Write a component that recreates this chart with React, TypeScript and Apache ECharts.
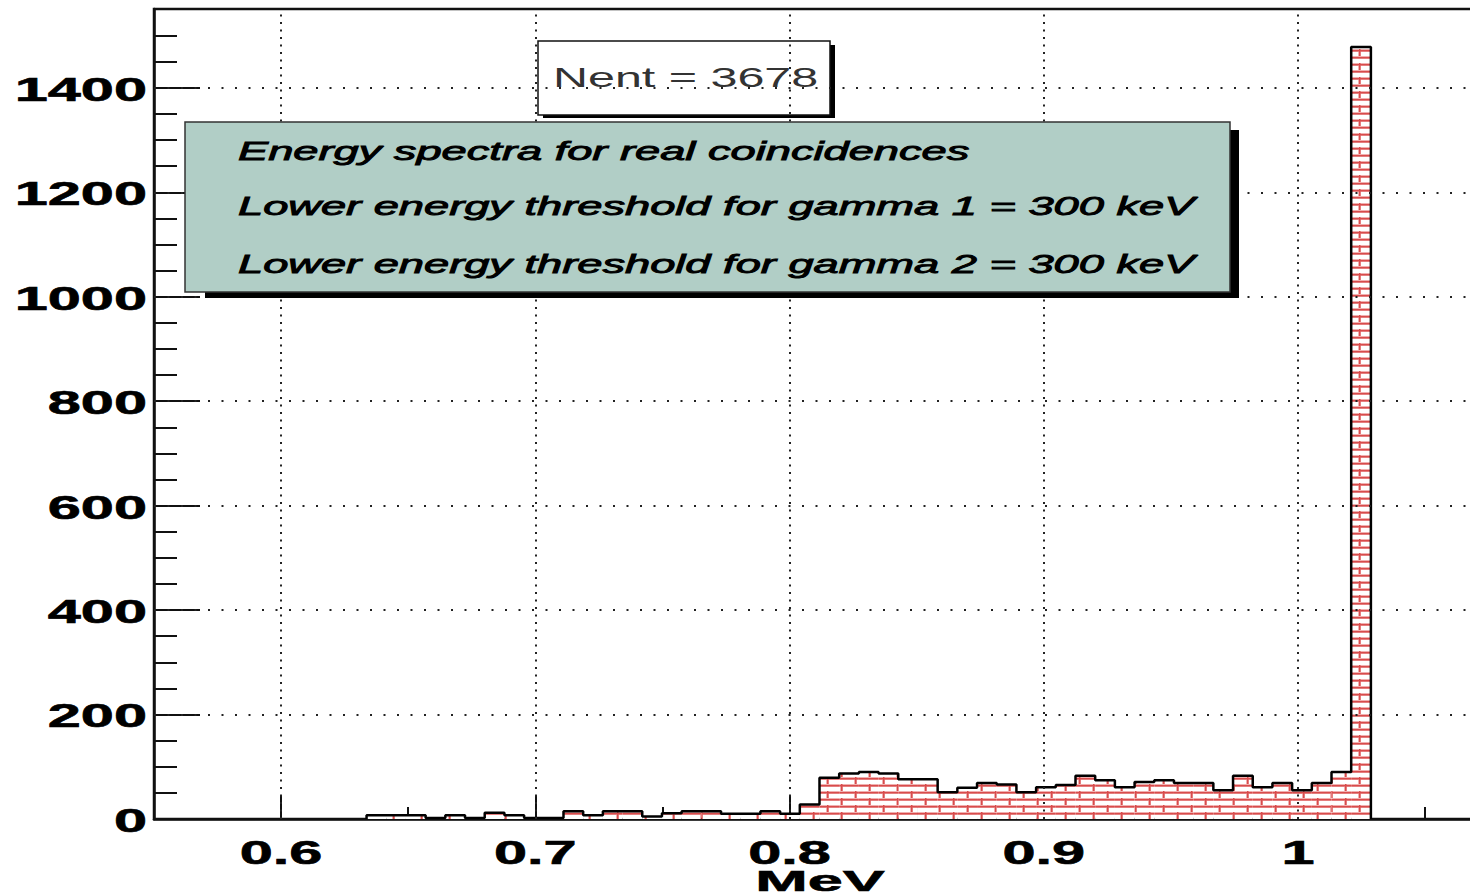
import React, { useEffect, useRef } from 'react';
import * as echarts from 'echarts';

// ---- data ----
const X_MIN = 0.55;
const X_MAX = 1.07;
const Y_MIN = 0;
const Y_MAX = 1551;

// histogram binning (MeV) and bin contents
const BIN_LOW = 0.63361;
const BIN_WIDTH = 0.007746;
const COUNTS = [
  7, 7, 7, 2, 7, 2, 12, 7, 2, 2, 15, 7, 15, 15, 5, 11, 15, 15, 10, 10, 15, 10,
  28, 79, 87, 90, 87, 76, 76, 51, 60, 69, 66, 51, 61, 65, 83, 74, 61, 71, 74, 69,
  69, 55, 83, 61, 69, 55, 69, 90, 1478,
];
const NENT = 3678;

const X_MAJOR = [0.6, 0.7, 0.8, 0.9, 1.0];
const X_LABELS = ['0.6', '0.7', '0.8', '0.9', '1'];
const X_MINOR = [0.65, 0.75, 0.85, 0.95, 1.05];
const Y_MAJOR = [0, 200, 400, 600, 800, 1000, 1200, 1400];
const Y_LABELS = ['0', '200', '400', '600', '800', '1000', '1200', '1400'];
const Y_MINOR = [
  50, 100, 150, 250, 300, 350, 450, 500, 550, 650, 700, 750, 850, 900, 950,
  1050, 1100, 1150, 1250, 1300, 1350, 1450, 1500,
];
const X_TITLE = 'MeV';
const LEGEND_LINES = [
  'Energy spectra for real coincidences',
  'Lower energy threshold for gamma 1 = 300 keV',
  'Lower energy threshold for gamma 2 = 300 keV',
];

// ---- layout ----
const CHART_W = 1480;
const CHART_H = 896;
const GRID = { left: 154, right: 4, top: 9, bottom: 77 };
const STRETCH = 1.75;

function makeBrickPattern() {
  const w = 28;
  const h = 14;
  const c = document.createElement('canvas');
  c.width = w;
  c.height = h;
  const ctx = c.getContext('2d')!;
  ctx.fillStyle = '#ffffff';
  ctx.fillRect(0, 0, w, h);
  ctx.fillStyle = '#f0b0b0';
  ctx.fillRect(0, 0, w, 3);
  ctx.fillRect(0, 7, w, 3);
  ctx.fillRect(0, 0, 3, 7);
  ctx.fillRect(14, 7, 3, 7);
  ctx.fillStyle = '#d84c4c';
  ctx.fillRect(0, 1, w, 1.5);
  ctx.fillRect(0, 8, w, 1.5);
  ctx.fillRect(1, 0, 1.5, 7);
  ctx.fillRect(15, 7, 1.5, 7);
  return { image: c, repeat: 'repeat', imageWidth: w, imageHeight: h };
}

export default function App() {
  const ref = useRef<HTMLDivElement>(null);

  useEffect(() => {
    if (!ref.current) return;
    const chart = echarts.init(ref.current, undefined, { renderer: 'svg' });
    const pattern = makeBrickPattern();

    const bins = COUNTS.map((c, i) => [BIN_LOW + i * BIN_WIDTH, BIN_LOW + (i + 1) * BIN_WIDTH, c]);
    const last = bins[bins.length - 1];
    const outline: number[][] = [[bins[0][0], 0]];
    bins.forEach((b) => outline.push([b[0], b[2]]));
    outline.push([last[1], last[2]]);
    outline.push([last[1], 0]);

    const tickStyle = { color: '#111', width: 2 };

    const gridLines = [
      ...X_MAJOR.map((v) => ({ xAxis: v, lineStyle: { type: [2, 5.5] } })),
      ...Y_MAJOR.filter((v) => v > 0).map((v) => ({ yAxis: v, lineStyle: { type: [2, 11.5] } })),
    ];

    const option: any = {
      animation: false,
      backgroundColor: '#ffffff',
      grid: { ...GRID, show: true, borderColor: '#111', borderWidth: 2.5, backgroundColor: 'transparent' },
      xAxis: [
        {
          type: 'value', min: X_MIN, max: X_MAX, position: 'bottom',
          axisLine: { show: true, onZero: false, lineStyle: { color: '#111', width: 2.5 } },
          axisTick: { show: true, inside: true, length: 12, customValues: X_MINOR, lineStyle: tickStyle },
          axisLabel: { show: false }, splitLine: { show: false },
        },
        {
          type: 'value', min: X_MIN, max: X_MAX, position: 'bottom',
          axisLine: { show: false },
          axisTick: { show: true, inside: true, length: 24, customValues: X_MAJOR, lineStyle: tickStyle },
          axisLabel: { show: false }, splitLine: { show: false },
        },
      ],
      yAxis: [
        {
          type: 'value', min: Y_MIN, max: Y_MAX, position: 'left',
          axisLine: { show: true, onZero: false, lineStyle: { color: '#111', width: 2.5 } },
          axisTick: { show: true, inside: true, length: 23, customValues: Y_MINOR, lineStyle: tickStyle },
          axisLabel: { show: false }, splitLine: { show: false },
        },
        {
          type: 'value', min: Y_MIN, max: Y_MAX, position: 'left',
          axisLine: { show: false },
          axisTick: { show: true, inside: true, length: 46, customValues: Y_MAJOR, lineStyle: tickStyle },
          axisLabel: { show: false }, splitLine: { show: false },
        },
      ],
      series: [
        {
          type: 'custom', name: 'fill', xAxisIndex: 0, yAxisIndex: 0, silent: true, z: 2,
          data: bins,
          encode: { x: [0, 1], y: 2 },
          renderItem: (_p: any, api: any) => {
            const a = api.coord([api.value(0), api.value(2)]);
            const b = api.coord([api.value(1), 0]);
            return {
              type: 'rect',
              shape: { x: a[0], y: a[1], width: b[0] - a[0], height: b[1] - a[1] },
              style: { fill: pattern, stroke: null },
            };
          },
        },
        {
          type: 'line', name: 'outline', xAxisIndex: 0, yAxisIndex: 0, silent: true, z: 4,
          data: outline, step: 'end', symbol: 'none',
          lineStyle: { color: '#000', width: 2.5 },
          markLine: {
            silent: true, symbol: ['none', 'none'], label: { show: false },
            lineStyle: { color: '#222', width: 2 },
            emphasis: { disabled: true },
            data: gridLines,
          },
        },
      ],
    };
    chart.setOption(option);

    const px = (v: number) => chart.convertToPixel({ xAxisIndex: 0 }, v) as number;
    const py = (v: number) => chart.convertToPixel({ yAxisIndex: 0 }, v) as number;
    const x0 = px(X_MIN);
    const x1 = px(X_MAX);
    const yBase = py(0);

    const labelStyle = {
      fontFamily: 'Liberation Sans', fontWeight: 'bold', fontSize: 34, fill: '#000',
      stroke: '#000', lineWidth: 0.6,
    };
    const graphics: any[] = [];
    X_MAJOR.forEach((v, i) => {
      graphics.push({
        type: 'text', x: px(v), y: yBase + 33.5, scaleX: STRETCH, z: 20,
        style: { ...labelStyle, text: X_LABELS[i], align: 'center', verticalAlign: 'middle' },
      });
    });
    Y_MAJOR.forEach((v, i) => {
      graphics.push({
        type: 'text', x: x0 - 7, y: py(v) + 1, scaleX: STRETCH, z: 20,
        style: { ...labelStyle, text: Y_LABELS[i], align: 'right', verticalAlign: 'middle' },
      });
    });
    graphics.push({
      type: 'text', x: (x0 + x1) / 2 + 5, y: yBase + 61, scaleX: 2.1, z: 20,
      style: { ...labelStyle, fontSize: 30, text: X_TITLE, align: 'center', verticalAlign: 'middle' },
    });

    // statistics box (hollow)
    graphics.push({ type: 'rect', z: 1, shape: { x: 830, y: 45, width: 5, height: 72 }, style: { fill: '#000' } });
    graphics.push({ type: 'rect', z: 1, shape: { x: 543, y: 115, width: 292, height: 3 }, style: { fill: '#000' } });
    graphics.push({
      type: 'rect', z: 1, shape: { x: 538, y: 41, width: 292, height: 74 },
      style: { fill: 'none', stroke: '#111', lineWidth: 1.5 },
    });
    graphics.push({
      type: 'text', x: 553, y: 77, scaleX: 1.73, z: 1,
      style: { text: 'Nent = ' + NENT, fontFamily: 'Liberation Sans', fontSize: 28, fill: '#333', align: 'left', verticalAlign: 'middle' },
    });

    // description pave
    graphics.push({ type: 'rect', z: 10, shape: { x: 205, y: 130, width: 1034, height: 168 }, style: { fill: '#000' } });
    graphics.push({
      type: 'rect', z: 11, shape: { x: 185, y: 122, width: 1045, height: 170 },
      style: { fill: '#b1cec6', stroke: '#333', lineWidth: 1.5 },
    });
    const lineY = [151, 206.5, 264];
    LEGEND_LINES.forEach((t, i) => {
      graphics.push({
        type: 'text', x: 238, y: lineY[i], scaleX: 1.74, z: 12,
        style: {
          text: t, fontFamily: 'Liberation Sans', fontStyle: 'italic', fontSize: 26,
          fill: '#000', stroke: '#000', lineWidth: 0.9, align: 'left', verticalAlign: 'middle',
        },
      });
    });

    chart.setOption({ graphic: graphics });

    return () => chart.dispose();
  }, []);

  return (
    <div style={{ position: 'fixed', left: 0, top: 0, width: 1470, height: 896, overflow: 'hidden', background: '#fff' }}>
      <div ref={ref} style={{ width: CHART_W, height: CHART_H }} />
    </div>
  );
}
